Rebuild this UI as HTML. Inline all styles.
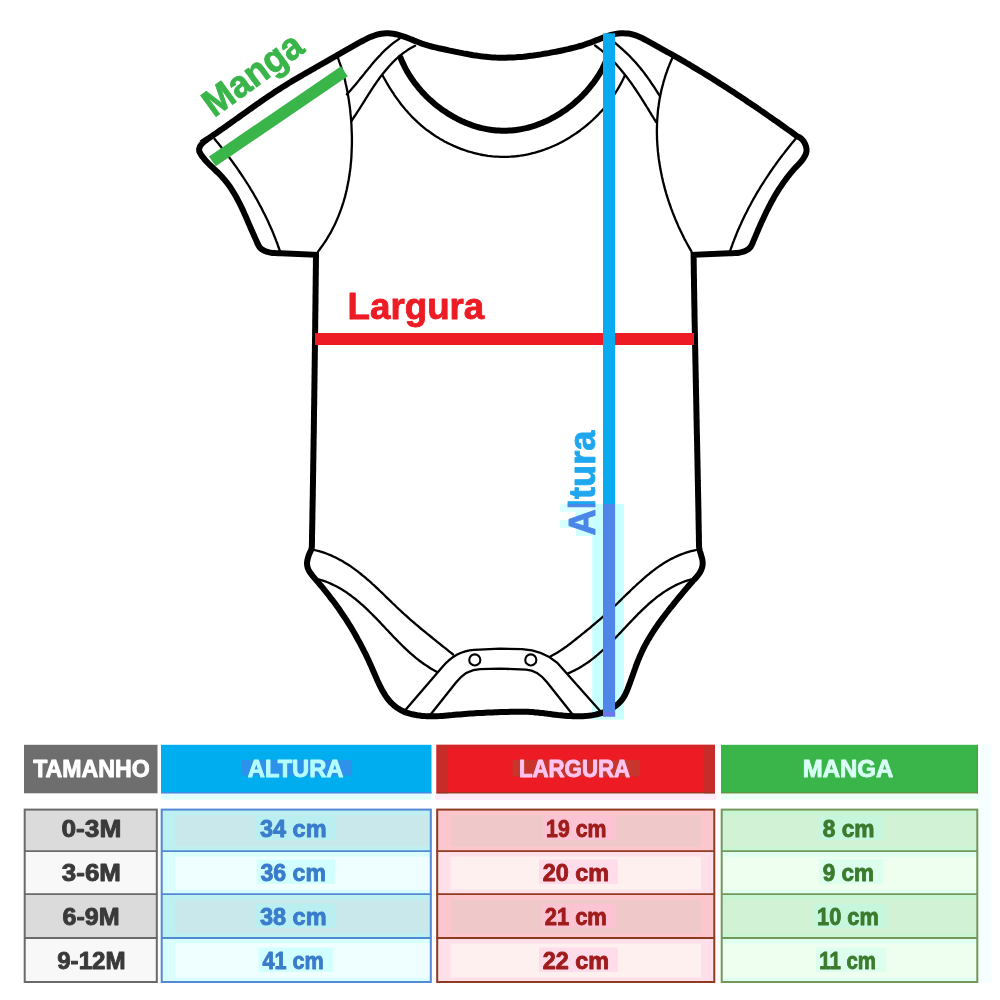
<!DOCTYPE html>
<html lang="pt-BR">
<head>
<meta charset="utf-8">
<title>Tabela de medidas - Body</title>
<style>
html,body{margin:0;padding:0;background:#fff;}
body{width:1000px;height:1000px;overflow:hidden;font-family:"Liberation Sans",sans-serif;}
svg{display:block;}
svg text{font-family:"Liberation Sans",sans-serif;}
</style>
</head>
<body>
<svg width="1000" height="1000" viewBox="0 0 1000 1000">
<rect width="1000" height="1000" fill="#fff"/>
<defs>
<linearGradient id="gAlt" gradientUnits="userSpaceOnUse" x1="0" y1="0" x2="100" y2="0">
<stop offset="0" stop-color="#4a86e8"/><stop offset="0.3295" stop-color="#4a86e8"/><stop offset="0.3295" stop-color="#1ea7ee"/><stop offset="1" stop-color="#1ea7ee"/>
</linearGradient>
</defs>
<!-- artefact tint -->
<rect x="592.2" y="504" width="31.7" height="215.6" fill="#c8ffff"/>
<rect x="560" y="504" width="33" height="8" fill="#dcffff"/>
<rect x="576" y="512" width="17" height="24" fill="#d0ffff"/>
<rect x="560" y="520" width="16" height="8" fill="#d6ffff"/>
<rect x="978.4" y="744.8" width="13" height="238" fill="#f6ffff"/>
<!-- bodysuit -->
<path d="M214.6,139.0L216.2,141.0L217.9,142.9L219.5,145.0L221.1,147.0L222.7,149.0L224.3,151.0L225.9,153.1L227.5,155.1L229.1,157.2L230.6,159.3L232.2,161.4L233.7,163.5L235.2,165.6L236.7,167.7L238.2,169.8L239.7,172.0L241.1,174.1L242.6,176.3L244.0,178.5L245.4,180.6L246.8,182.8L248.2,185.0L249.6,187.2L250.9,189.5L252.3,191.7L253.6,193.9L254.9,196.2L256.2,198.4L257.5,200.7L258.7,203.0L259.9,205.3L261.2,207.5L262.4,209.9L263.5,212.2L264.7,214.5L265.8,216.8L267.0,219.2L268.1,221.5L269.1,223.9L270.2,226.2L271.2,228.6L272.3,231.0L273.3,233.4L274.2,235.8L275.2,238.2L276.1,240.6L277.1,243.0L277.9,245.5L278.8,247.9L279.7,250.4" fill="none" stroke="#000" stroke-width="2.3" stroke-linecap="round" stroke-linejoin="round"/>
<path d="M337.5,57.1L338.5,59.5L339.3,61.9L340.2,64.2L341.0,66.6L341.8,69.0L342.5,71.5L343.2,73.9L343.9,76.3L344.6,78.8L345.2,81.2L345.7,83.7L346.3,86.2L346.8,88.6L347.3,91.1L347.8,93.6L348.2,96.1L348.6,98.6L349.0,101.1L349.3,103.6L349.7,106.2L350.0,108.7L350.3,111.2L350.5,113.7L350.8,116.3L351.0,118.8L351.2,121.3L351.4,123.9L351.5,126.4L351.6,129.0L351.7,131.5L351.8,134.1L351.9,136.6L351.9,139.2L351.9,141.7L351.9,144.3L351.8,146.8L351.7,149.4L351.6,151.9L351.5,154.5L351.4,157.0L351.2,159.6L351.0,162.1L350.7,164.7L350.5,167.2L350.2,169.7L349.8,172.2L349.5,174.8L349.1,177.3L348.7,179.8L348.2,182.3L347.7,184.8L347.2,187.3L346.7,189.7L346.1,192.2L345.5,194.7L344.9,197.1L344.2,199.5L343.5,202.0L342.7,204.4L341.9,206.8L341.1,209.2L340.2,211.6L339.3,213.9L338.4,216.3L337.4,218.6L336.4,220.9L335.4,223.2L334.3,225.5L333.1,227.8L332.0,230.0L330.8,232.3L329.5,234.5L328.2,236.7L326.9,238.9L325.5,241.1L324.1,243.2L322.6,245.3L321.1,247.4L319.6,249.5L318.0,251.6" fill="none" stroke="#000" stroke-width="2.3" stroke-linecap="round" stroke-linejoin="round"/>
<path d="M399.6,38.6L397.4,40.1L395.2,41.6L393.1,43.2L391.0,44.9L389.0,46.6L387.0,48.4L385.0,50.2L383.1,52.0L381.3,53.9L379.5,55.9L377.7,57.8L375.9,59.8L374.1,61.8L372.4,63.8L370.7,65.9L369.0,67.9L367.3,70.0L365.6,72.0L364.0,74.1L362.3,76.2L360.6,78.3L358.9,80.4L357.3,82.4L355.6,84.5L353.8,86.5L352.1,88.5L350.4,90.5L348.6,92.5L346.8,94.4" fill="none" stroke="#000" stroke-width="2.3" stroke-linecap="round" stroke-linejoin="round"/>
<path d="M415.1,45.7L412.8,46.9L410.5,48.2L408.2,49.6L406.1,51.1L403.9,52.6L401.9,54.2L399.8,55.8L397.9,57.5L396.0,59.2L394.1,61.0L392.2,62.9L390.5,64.8L388.7,66.7L387.0,68.7L385.3,70.7L383.7,72.7L382.0,74.8L380.4,76.9L378.9,79.0L377.3,81.1L375.8,83.3L374.3,85.5L372.9,87.7L371.4,89.9L370.0,92.1L368.5,94.4L367.1,96.6L365.7,98.8L364.3,101.1L362.9,103.3L361.5,105.5L360.1,107.8L358.7,110.0L357.3,112.2L355.9,114.3L354.4,116.5L353.0,118.6L351.6,120.8" fill="none" stroke="#000" stroke-width="2.3" stroke-linecap="round" stroke-linejoin="round"/>
<path d="M313.9,549.9L316.4,550.5L319.0,551.2L321.5,551.9L323.9,552.7L326.3,553.5L328.7,554.5L331.0,555.4L333.3,556.5L335.6,557.5L337.9,558.7L340.1,559.9L342.3,561.1L344.4,562.4L346.6,563.7L348.7,565.0L350.8,566.4L352.8,567.9L354.9,569.4L356.9,570.9L358.9,572.4L360.9,574.0L362.8,575.6L364.8,577.2L366.7,578.9L368.7,580.5L370.6,582.2L372.5,584.0L374.4,585.7L376.2,587.4L378.1,589.2L380.0,591.0L381.8,592.7L383.7,594.5L385.5,596.3L387.4,598.1L389.2,599.9L391.1,601.7L392.9,603.5L394.8,605.2L396.6,607.0L398.5,608.8L400.4,610.5L402.3,612.3L404.1,614.0L406.0,615.7L407.9,617.4L409.8,619.1L411.8,620.8L413.7,622.4L415.6,624.1L417.5,625.7L419.5,627.4L421.4,629.0L423.4,630.6L425.3,632.2L427.3,633.8L429.3,635.4L431.3,637.0L433.2,638.6L435.2,640.2L437.2,641.8L439.2,643.4L441.2,645.0L443.2,646.6L445.2,648.1L447.1,649.7L449.1,651.3L451.1,652.9L453.1,654.5" fill="none" stroke="#000" stroke-width="2.3" stroke-linecap="round" stroke-linejoin="round"/>
<path d="M319.4,579.5L322.0,580.3L324.5,581.1L326.9,582.0L329.3,583.0L331.7,584.1L334.0,585.2L336.2,586.3L338.5,587.5L340.7,588.8L342.8,590.1L345.0,591.4L347.1,592.8L349.1,594.3L351.2,595.8L353.2,597.3L355.2,598.9L357.1,600.5L359.1,602.1L361.0,603.8L362.9,605.4L364.8,607.2L366.6,608.9L368.5,610.7L370.3,612.5L372.1,614.3L373.9,616.1L375.7,617.9L377.5,619.8L379.3,621.6L381.1,623.5L382.8,625.4L384.6,627.3L386.4,629.2L388.2,631.0L389.9,632.9L391.7,634.8L393.5,636.7L395.3,638.5L397.1,640.4L398.9,642.2L400.7,644.0L402.5,645.8L404.4,647.6L406.2,649.4L408.1,651.1L410.0,652.8L411.9,654.5L413.9,656.2L415.8,657.8L417.8,659.4L419.8,661.0L421.9,662.5L424.0,664.0L426.1,665.4L428.2,666.8L430.4,668.2L432.6,669.5L434.8,670.7L437.1,671.9" fill="none" stroke="#000" stroke-width="2.3" stroke-linecap="round" stroke-linejoin="round"/>
<path d="M795.4,139.0L793.8,141.0L792.1,142.9L790.5,145.0L788.9,147.0L787.3,149.0L785.7,151.0L784.1,153.1L782.5,155.1L780.9,157.2L779.4,159.3L777.8,161.4L776.3,163.5L774.8,165.6L773.3,167.7L771.8,169.8L770.3,172.0L768.9,174.1L767.4,176.3L766.0,178.5L764.6,180.6L763.2,182.8L761.8,185.0L760.4,187.2L759.1,189.5L757.7,191.7L756.4,193.9L755.1,196.2L753.8,198.4L752.5,200.7L751.3,203.0L750.1,205.3L748.8,207.5L747.6,209.9L746.5,212.2L745.3,214.5L744.2,216.8L743.0,219.2L741.9,221.5L740.9,223.9L739.8,226.2L738.8,228.6L737.7,231.0L736.7,233.4L735.8,235.8L734.8,238.2L733.9,240.6L732.9,243.0L732.1,245.5L731.2,247.9L730.3,250.4" fill="none" stroke="#000" stroke-width="2.3" stroke-linecap="round" stroke-linejoin="round"/>
<path d="M672.7,57.2L671.7,59.6L670.6,62.0L669.6,64.4L668.7,66.7L667.7,69.1L666.9,71.6L666.0,74.0L665.2,76.4L664.5,78.8L663.7,81.3L663.1,83.7L662.4,86.2L661.8,88.6L661.2,91.1L660.7,93.6L660.2,96.1L659.7,98.6L659.3,101.0L658.9,103.5L658.6,106.0L658.2,108.5L657.9,111.1L657.7,113.6L657.5,116.1L657.3,118.6L657.2,121.1L657.0,123.6L657.0,126.2L656.9,128.7L656.9,131.2L656.9,133.8L657.0,136.3L657.0,138.8L657.2,141.3L657.3,143.9L657.5,146.4L657.7,148.9L657.9,151.4L658.2,154.0L658.5,156.5L658.8,159.0L659.2,161.5L659.6,164.0L660.0,166.5L660.4,169.1L660.9,171.6L661.4,174.1L661.9,176.5L662.5,179.0L663.0,181.5L663.7,184.0L664.3,186.5L664.9,188.9L665.6,191.4L666.3,193.8L667.1,196.3L667.8,198.7L668.6,201.1L669.4,203.5L670.3,205.9L671.1,208.3L672.0,210.7L672.9,213.1L673.9,215.5L674.8,217.8L675.8,220.2L676.8,222.5L677.8,224.9L678.8,227.2L679.9,229.5L681.0,231.8L682.1,234.0L683.2,236.3L684.3,238.6L685.5,240.8L686.7,243.0L687.9,245.2L689.1,247.4L690.4,249.6L691.6,251.8" fill="none" stroke="#000" stroke-width="2.3" stroke-linecap="round" stroke-linejoin="round"/>
<path d="M610.0,39.0L612.1,40.6L614.2,42.2L616.2,43.9L618.2,45.6L620.2,47.3L622.2,49.1L624.1,50.8L626.0,52.6L627.9,54.4L629.8,56.3L631.6,58.2L633.4,60.1L635.2,62.0L636.9,64.0L638.6,66.0L640.3,68.0L641.9,70.0L643.6,72.1L645.1,74.2L646.7,76.3L648.2,78.4L649.8,80.6L651.2,82.8L652.7,85.0L654.2,87.2L655.6,89.4L657.0,91.6L658.5,93.9L659.9,96.1" fill="none" stroke="#000" stroke-width="2.3" stroke-linecap="round" stroke-linejoin="round"/>
<path d="M595.0,45.5L597.1,47.0L599.2,48.6L601.2,50.2L603.2,51.8L605.2,53.5L607.1,55.2L609.0,57.0L610.8,58.7L612.6,60.6L614.4,62.4L616.2,64.3L617.9,66.3L619.6,68.2L621.3,70.2L622.9,72.2L624.5,74.2L626.1,76.3L627.7,78.3L629.2,80.4L630.8,82.5L632.3,84.7L633.8,86.8L635.3,89.0L636.7,91.1L638.2,93.3L639.6,95.5L641.0,97.7L642.4,99.9L643.8,102.1L645.2,104.3L646.5,106.5L647.9,108.7L649.2,110.9L650.6,113.1L651.9,115.3L653.3,117.5L654.6,119.7L655.9,121.9" fill="none" stroke="#000" stroke-width="2.3" stroke-linecap="round" stroke-linejoin="round"/>
<path d="M696.2,550.0L693.6,550.6L691.0,551.2L688.5,551.9L686.0,552.7L683.6,553.5L681.2,554.4L678.8,555.4L676.5,556.4L674.2,557.5L671.9,558.6L669.7,559.8L667.5,561.0L665.3,562.3L663.2,563.6L661.1,565.0L659.0,566.4L656.9,567.9L654.9,569.4L652.9,570.9L650.8,572.5L648.9,574.1L646.9,575.7L644.9,577.4L643.0,579.1L641.1,580.8L639.2,582.5L637.3,584.2L635.4,586.0L633.5,587.7L631.6,589.5L629.8,591.3L627.9,593.1L626.0,594.9L624.2,596.7L622.3,598.5L620.5,600.4L618.6,602.2L616.8,604.0L614.9,605.7L613.0,607.5L611.1,609.3L609.3,611.0L607.4,612.8L605.5,614.5L603.6,616.2L601.6,617.9L599.7,619.6L597.8,621.2L595.8,622.9L593.9,624.5L591.9,626.1L590.0,627.8L588.0,629.4L586.0,631.0L584.1,632.6L582.1,634.2L580.1,635.8L578.1,637.4L576.1,639.0L574.1,640.6L572.1,642.2L570.1,643.8L568.0,645.3L566.0,646.8L563.9,648.3L561.8,649.7L559.6,651.1L557.5,652.5L555.3,653.8L553.0,655.0L550.7,656.2" fill="none" stroke="#000" stroke-width="2.3" stroke-linecap="round" stroke-linejoin="round"/>
<path d="M690.6,579.5L688.0,580.3L685.5,581.1L683.1,582.0L680.7,583.0L678.3,584.0L676.0,585.1L673.8,586.3L671.5,587.5L669.3,588.7L667.2,590.0L665.0,591.4L662.9,592.8L660.9,594.2L658.8,595.7L656.8,597.2L654.8,598.8L652.9,600.4L651.0,602.0L649.0,603.7L647.2,605.4L645.3,607.1L643.4,608.9L641.6,610.6L639.8,612.4L637.9,614.2L636.1,616.1L634.4,617.9L632.6,619.8L630.8,621.6L629.0,623.5L627.2,625.4L625.5,627.2L623.7,629.1L621.9,631.0L620.2,632.9L618.4,634.8L616.6,636.6L614.8,638.5L613.0,640.3L611.2,642.1L609.4,643.9L607.5,645.7L605.7,647.5L603.8,649.3L601.9,651.0L600.0,652.7L598.1,654.3L596.2,656.0L594.2,657.6L592.2,659.2L590.2,660.7L588.1,662.2L586.0,663.6L583.9,665.0L581.7,666.4L579.5,667.7L577.3,668.9L575.1,670.1L572.7,671.3L570.4,672.4L568.0,673.4" fill="none" stroke="#000" stroke-width="2.3" stroke-linecap="round" stroke-linejoin="round"/>
<path d="M405.4,710 L443,666.2 Q456,651 474,649.8 L500,648.6 L522,649.2 Q543,650.5 557,662.6 L601,712" fill="none" stroke="#000" stroke-width="2.3" stroke-linecap="round" stroke-linejoin="round"/>
<path d="M430.6,714.5 L456,682.5 Q466.5,669.3 480,669.1 L500,668.6 L526,669.6 Q537.3,670 547,682.2 L572.6,714.5" fill="none" stroke="#000" stroke-width="2.3" stroke-linecap="round" stroke-linejoin="round"/>
<path d="M382.8,75.8L384.0,78.0L385.3,80.2L386.5,82.4L387.8,84.6L389.1,86.8L390.4,88.9L391.8,91.1L393.2,93.2L394.6,95.3L396.0,97.3L397.5,99.4L399.0,101.4L400.5,103.5L402.1,105.5L403.7,107.4L405.3,109.4L407.0,111.3L408.7,113.2L410.4,115.0L412.1,116.9L413.9,118.7L415.7,120.4L417.6,122.2L419.5,123.9L421.4,125.6L423.3,127.2L425.3,128.8L427.3,130.3L429.4,131.8L431.5,133.3L433.6,134.8L435.7,136.2L437.9,137.5L440.1,138.9L442.3,140.1L444.5,141.4L446.8,142.6L449.1,143.7L451.4,144.8L453.7,145.9L456.1,146.9L458.4,147.9L460.8,148.8L463.2,149.7L465.6,150.5L468.0,151.3L470.5,152.0L472.9,152.7L475.4,153.3L477.8,153.9L480.3,154.5L482.8,155.0L485.3,155.4L487.8,155.8L490.3,156.1L492.8,156.4L495.3,156.6L497.8,156.7L500.3,156.8L502.9,156.9L505.4,156.9L507.9,156.8L510.4,156.7L512.9,156.5L515.4,156.3L517.9,156.0L520.3,155.7L522.8,155.3L525.3,154.9L527.8,154.4L530.2,153.8L532.6,153.2L535.1,152.6L537.5,151.9L539.9,151.2L542.3,150.4L544.7,149.5L547.1,148.6L549.4,147.7L551.7,146.7L554.1,145.7L556.4,144.7L558.7,143.6L560.9,142.4L563.2,141.2L565.4,140.0L567.6,138.7L569.8,137.4L571.9,136.0L574.1,134.6L576.2,133.2L578.3,131.7L580.4,130.2L582.4,128.7L584.4,127.1L586.4,125.5L588.3,123.9L590.3,122.2L592.2,120.5L594.0,118.7L595.9,116.9L597.7,115.1L599.4,113.3L601.2,111.4L602.9,109.5L604.5,107.6L606.2,105.6L607.7,103.6L609.3,101.6L610.8,99.6L612.3,97.5L613.7,95.4L615.1,93.3L616.5,91.2L617.8,89.0L619.1,86.8L620.3,84.6L621.5,82.4L622.6,80.2L623.7,77.9L624.8,75.6" fill="none" stroke="#000" stroke-width="2.3" stroke-linecap="round" stroke-linejoin="round"/>
<path d="M400.5,57.6L401.4,59.9L402.4,62.2L403.5,64.4L404.6,66.7L405.7,68.9L406.9,71.1L408.2,73.3L409.5,75.4L410.9,77.5L412.3,79.6L413.8,81.7L415.3,83.7L416.9,85.7L418.5,87.7L420.1,89.6L421.8,91.6L423.5,93.4L425.3,95.3L427.1,97.1L429.0,98.9L430.9,100.6L432.8,102.3L434.7,104.0L436.7,105.6L438.8,107.2L440.8,108.7L442.9,110.2L445.0,111.6L447.2,113.1L449.3,114.4L451.5,115.7L453.7,117.0L456.0,118.2L458.2,119.4L460.5,120.5L462.8,121.6L465.1,122.6L467.5,123.5L469.8,124.4L472.2,125.3L474.6,126.1L477.0,126.8L479.4,127.5L481.9,128.1L484.3,128.6L486.7,129.1L489.2,129.6L491.6,129.9L494.1,130.2L496.6,130.5L499.1,130.6L501.5,130.7L504.0,130.8L506.5,130.7L508.9,130.6L511.4,130.5L513.9,130.2L516.4,129.9L518.8,129.6L521.3,129.1L523.7,128.6L526.1,128.1L528.6,127.5L531.0,126.8L533.4,126.1L535.8,125.3L538.2,124.4L540.5,123.5L542.9,122.6L545.2,121.6L547.5,120.5L549.8,119.4L552.0,118.2L554.3,117.0L556.5,115.7L558.7,114.4L560.8,113.1L563.0,111.6L565.1,110.2L567.2,108.7L569.2,107.2L571.3,105.6L573.3,104.0L575.2,102.3L577.1,100.6L579.0,98.9L580.9,97.1L582.7,95.3L584.5,93.4L586.2,91.6L587.9,89.6L589.5,87.7L591.1,85.7L592.7,83.7L594.2,81.7L595.7,79.6L597.1,77.5L598.5,75.4L599.8,73.3L601.1,71.1L602.3,68.9L603.4,66.7L604.5,64.4L605.6,62.2L606.6,59.9L607.5,57.6" fill="none" stroke="#000" stroke-width="6.0" stroke-linecap="round" stroke-linejoin="round"/>
<path d="M797.5,136.4L795.4,135.0L793.4,133.5L791.4,132.0L789.3,130.6L787.3,129.1L785.2,127.7L783.2,126.2L781.1,124.7L779.1,123.3L777.0,121.8L775.0,120.4L772.9,119.0L770.8,117.5L768.8,116.1L766.7,114.6L764.7,113.2L762.6,111.8L760.5,110.4L758.4,108.9L756.4,107.5L754.3,106.1L752.2,104.7L750.1,103.3L748.0,101.9L746.0,100.5L743.9,99.1L741.8,97.7L739.7,96.3L737.6,94.9L735.5,93.5L733.4,92.1L731.3,90.8L729.2,89.4L727.1,88.0L724.9,86.7L722.8,85.3L720.7,83.9L718.6,82.6L716.5,81.3L714.3,79.9L712.2,78.6L710.1,77.2L708.0,75.9L705.8,74.6L703.7,73.3L701.5,72.0L699.4,70.7L697.2,69.4L695.1,68.1L692.9,66.8L690.8,65.5L688.6,64.2L686.5,63.0L684.3,61.7L682.1,60.4L680.0,59.2L677.8,57.9L675.6,56.7L673.4,55.4L671.2,54.2L669.1,53.0L666.9,51.8L664.7,50.5L662.5,49.3L660.3,48.1L658.1,46.9L655.9,45.7L653.7,44.4L651.4,43.2L649.2,42.0L647.0,40.7L644.7,39.5L642.5,38.3L640.2,37.3L637.9,36.3L635.6,35.4L633.2,34.6L630.8,34.0L628.3,33.6L625.8,33.4L623.4,33.3L620.9,33.3L618.4,33.5L615.9,33.9L613.5,34.4L611.1,35.0L608.7,35.7L606.3,36.5L603.9,37.3L601.5,38.2L599.2,39.2L596.8,40.1L594.4,41.0L592.1,42.0L589.7,42.9L587.3,43.7L584.9,44.5L582.6,45.3L580.2,46.0L577.7,46.7L575.3,47.3L572.9,47.9L570.5,48.5L568.0,49.1L565.6,49.6L563.1,50.2L560.7,50.7L558.2,51.2L555.8,51.7L553.3,52.1L550.8,52.6L548.4,53.1L545.9,53.5L543.4,53.9L540.9,54.4L538.4,54.7L535.9,55.1L533.4,55.5L531.0,55.8L528.5,56.1L526.0,56.4L523.5,56.7L521.0,56.9L518.5,57.1L515.9,57.3L513.4,57.4L510.9,57.5L508.4,57.6L505.9,57.7L503.4,57.7L500.9,57.7L498.4,57.7L495.9,57.6L493.4,57.4L490.9,57.3L488.4,57.1L485.9,56.8L483.4,56.6L480.9,56.3L478.4,55.9L475.9,55.5L473.4,55.2L470.9,54.7L468.4,54.3L465.9,53.8L463.5,53.4L461.0,52.9L458.5,52.4L456.0,51.9L453.6,51.4L451.1,50.9L448.7,50.4L446.2,49.8L443.8,49.3L441.3,48.8L438.9,48.3L436.5,47.7L434.0,47.1L431.6,46.5L429.2,45.8L426.8,45.1L424.4,44.4L422.0,43.6L419.7,42.7L417.3,41.8L414.9,40.9L412.6,39.9L410.2,39.0L407.8,38.0L405.5,37.1L403.1,36.3L400.7,35.5L398.3,34.8L395.8,34.2L393.4,33.7L390.9,33.4L388.5,33.3L386.0,33.3L383.5,33.4L381.1,33.7L378.6,34.2L376.2,34.9L373.9,35.7L371.5,36.6L369.2,37.6L366.9,38.6L364.6,39.8L362.4,41.0L360.1,42.2L357.9,43.4L355.7,44.7L353.5,45.9L351.3,47.1L349.1,48.4L346.9,49.6L344.7,50.9L342.6,52.1L340.4,53.4L338.2,54.6L336.1,55.9L333.9,57.1L331.7,58.3L329.5,59.6L327.4,60.8L325.2,62.1L323.0,63.3L320.8,64.5L318.6,65.8L316.5,67.0L314.3,68.3L312.1,69.5L309.9,70.8L307.7,72.0L305.5,73.3L303.4,74.5L301.2,75.8L299.0,77.1L296.9,78.3L294.7,79.6L292.5,80.9L290.4,82.2L288.2,83.5L286.1,84.9L284.0,86.2L281.8,87.5L279.7,88.9L277.6,90.2L275.5,91.6L273.4,93.0L271.3,94.4L269.2,95.8L267.1,97.2L265.1,98.6L263.0,100.0L260.9,101.5L258.9,102.9L256.8,104.3L254.8,105.8L252.7,107.2L250.6,108.7L248.6,110.1L246.6,111.6L244.5,113.1L242.5,114.5L240.4,116.0L238.4,117.5L236.3,118.9L234.3,120.4L232.2,121.8L230.2,123.3L228.1,124.8L226.1,126.2L224.0,127.7L222.0,129.1L219.9,130.5L217.9,132.0L215.8,133.4L213.7,134.8L211.7,136.3L209.6,137.7L207.5,139.1L205.4,140.5L205.6,140.6L203.7,142.0L201.6,144.1L199.9,146.5L199.1,149.0L199.3,151.3L200.4,153.5L201.7,155.7L203.3,157.7L204.9,159.7L206.6,161.6L208.4,163.5L210.2,165.3L212.1,167.1L214.0,168.9L215.9,170.7L217.8,172.5L219.7,174.4L221.5,176.2L223.2,178.2L224.9,180.1L226.5,182.2L228.1,184.2L229.6,186.3L231.0,188.4L232.4,190.6L233.8,192.8L235.1,195.0L236.4,197.3L237.6,199.6L238.8,201.9L240.0,204.2L241.1,206.5L242.3,208.9L243.4,211.3L244.4,213.6L245.5,216.0L246.6,218.4L247.6,220.8L248.6,223.2L249.7,225.6L250.7,228.0L251.7,230.4L252.8,232.7L253.8,235.1L254.9,237.4L255.9,239.8L257.0,242.1L258.1,244.4L258.0,244.5L259.5,247.1L261.5,249.1L263.9,250.6L266.6,251.7L269.4,252.4L272.3,252.9L275.3,253.1L278.2,253.2L281.0,253.3L281.0,253.3L316.0,254.8L316.0,254.8L316.0,257.3L315.9,259.9L315.9,262.4L315.9,264.9L315.9,267.5L315.8,270.0L315.8,272.5L315.8,275.1L315.7,277.6L315.7,280.1L315.7,282.7L315.7,285.2L315.6,287.7L315.6,290.3L315.6,292.8L315.5,295.3L315.5,297.8L315.5,300.4L315.5,302.9L315.4,305.4L315.4,308.0L315.4,310.5L315.3,313.0L315.3,315.6L315.3,318.1L315.2,320.6L315.2,323.2L315.2,325.7L315.2,328.2L315.1,330.8L315.1,333.3L315.1,335.8L315.0,338.4L315.0,340.9L315.0,343.4L314.9,346.0L314.9,348.5L314.9,351.0L314.8,353.6L314.8,356.1L314.8,358.6L314.7,361.2L314.7,363.7L314.7,366.2L314.6,368.8L314.6,371.3L314.6,373.8L314.5,376.3L314.5,378.9L314.5,381.4L314.4,383.9L314.4,386.5L314.4,389.0L314.3,391.5L314.3,394.1L314.3,396.6L314.2,399.1L314.2,401.7L314.2,404.2L314.1,406.7L314.1,409.3L314.0,411.8L314.0,414.3L314.0,416.9L313.9,419.4L313.9,421.9L313.9,424.5L313.8,427.0L313.8,429.5L313.8,432.1L313.7,434.6L313.7,437.1L313.6,439.7L313.6,442.2L313.6,444.7L313.5,447.2L313.5,449.8L313.4,452.3L313.4,454.8L313.4,457.4L313.3,459.9L313.3,462.4L313.2,465.0L313.2,467.5L313.2,470.0L313.1,472.6L313.1,475.1L313.0,477.6L313.0,480.2L313.0,482.7L312.9,485.2L312.9,487.8L312.8,490.3L312.8,492.8L312.8,495.4L312.7,497.9L312.7,500.4L312.6,503.0L312.6,505.5L312.5,508.0L312.5,510.6L312.4,513.1L312.4,515.6L312.4,518.1L312.3,520.7L312.3,523.2L312.2,525.7L312.2,528.3L312.1,530.8L312.1,533.3L312.0,535.9L312.0,538.4L312.0,540.9L311.9,543.5L311.9,546.0L311.9,546.1L311.6,548.5L310.8,550.8L309.7,553.0L308.7,555.4L307.9,558.0L307.3,560.5L307.0,563.0L307.2,565.5L307.7,567.8L308.6,570.0L309.8,572.1L311.3,574.1L312.8,576.1L314.5,578.1L316.2,580.1L317.9,582.0L319.5,584.0L321.2,585.9L322.8,587.9L324.4,589.9L326.0,591.8L327.6,593.8L329.1,595.8L330.6,597.8L332.2,599.8L333.7,601.8L335.2,603.8L336.6,605.8L338.1,607.8L339.5,609.8L340.9,611.9L342.3,614.0L343.7,616.0L345.1,618.1L346.5,620.2L347.8,622.3L349.2,624.5L350.5,626.6L351.8,628.8L353.1,630.9L354.3,633.1L355.6,635.3L356.8,637.5L358.0,639.7L359.3,641.9L360.5,644.2L361.6,646.4L362.8,648.6L363.9,650.9L365.1,653.2L366.2,655.4L367.3,657.7L368.4,660.0L369.4,662.3L370.5,664.6L371.5,666.9L372.5,669.2L373.5,671.5L374.5,673.8L375.5,676.1L376.5,678.4L377.5,680.7L378.6,683.0L379.6,685.3L380.8,687.5L381.9,689.7L383.2,691.9L384.5,694.1L385.8,696.2L387.3,698.3L388.9,700.2L390.5,702.1L392.3,703.9L394.2,705.6L396.1,707.1L398.2,708.6L400.4,709.9L402.6,711.0L404.9,712.1L407.3,712.9L409.8,713.7L412.2,714.3L414.7,714.8L417.2,715.3L419.6,715.6L422.1,715.9L424.6,716.1L427.1,716.2L429.6,716.3L432.1,716.3L434.6,716.3L437.1,716.2L439.7,716.1L442.2,715.9L444.7,715.7L447.2,715.5L449.7,715.3L452.3,715.1L454.8,714.8L457.3,714.6L459.8,714.4L462.3,714.2L464.8,714.0L467.4,713.8L469.9,713.6L472.4,713.5L474.9,713.3L477.4,713.1L479.9,713.0L482.4,712.9L484.9,712.7L487.4,712.6L490.0,712.5L492.5,712.4L495.0,712.3L497.5,712.2L500.0,712.1L502.5,712.0L505.0,711.9L507.6,711.9L510.1,711.8L512.6,711.7L515.1,711.7L517.7,711.7L520.2,711.7L522.7,711.7L525.2,711.7L527.7,711.8L530.2,712.0L532.8,712.1L535.3,712.4L537.8,712.6L540.3,712.9L542.8,713.1L545.3,713.4L547.8,713.8L550.3,714.1L552.8,714.4L555.3,714.7L557.8,715.0L560.3,715.2L562.8,715.5L565.3,715.7L567.8,715.9L570.4,716.1L572.9,716.2L575.4,716.3L577.9,716.3L580.4,716.3L582.9,716.2L585.4,716.0L587.9,715.8L590.4,715.5L592.9,715.1L595.4,714.6L597.9,714.0L600.3,713.4L602.7,712.6L605.1,711.7L607.4,710.8L609.6,709.7L611.8,708.4L614.0,707.1L616.0,705.6L618.0,704.0L619.8,702.2L621.5,700.3L623.0,698.3L624.3,696.2L625.5,694.0L626.5,691.7L627.5,689.4L628.4,687.0L629.3,684.7L630.2,682.3L631.0,679.9L631.9,677.6L632.7,675.2L633.6,672.8L634.4,670.4L635.3,668.0L636.1,665.6L637.0,663.3L637.9,660.9L638.9,658.6L639.8,656.3L640.9,654.0L641.9,651.7L643.0,649.4L644.1,647.2L645.3,644.9L646.5,642.7L647.7,640.6L649.0,638.4L650.3,636.2L651.6,634.1L653.0,632.0L654.3,629.9L655.7,627.8L657.2,625.7L658.6,623.6L660.1,621.6L661.6,619.5L663.1,617.5L664.6,615.5L666.1,613.5L667.7,611.5L669.2,609.5L670.8,607.5L672.4,605.6L673.9,603.6L675.5,601.6L677.1,599.7L678.7,597.7L680.3,595.8L681.9,593.8L683.5,591.9L685.1,590.0L686.7,588.1L688.3,586.2L690.0,584.2L691.6,582.4L693.3,580.5L695.1,578.6L696.8,576.7L698.4,574.8L699.8,572.7L701.0,570.5L701.9,568.2L702.5,565.7L702.7,563.2L702.5,560.7L702.0,558.2L701.3,555.8L700.6,553.3L699.8,550.9L699.3,548.5L699.0,546.0L699.0,546.0L699.0,543.5L698.9,540.9L698.9,538.4L698.9,535.9L698.8,533.3L698.8,530.8L698.7,528.3L698.7,525.7L698.6,523.2L698.6,520.7L698.5,518.1L698.5,515.6L698.5,513.1L698.4,510.5L698.4,508.0L698.3,505.5L698.3,503.0L698.2,500.4L698.2,497.9L698.1,495.4L698.1,492.8L698.0,490.3L698.0,487.8L697.9,485.2L697.9,482.7L697.8,480.2L697.8,477.6L697.7,475.1L697.7,472.6L697.6,470.0L697.6,467.5L697.5,465.0L697.5,462.4L697.4,459.9L697.4,457.4L697.3,454.8L697.3,452.3L697.2,449.8L697.2,447.2L697.1,444.7L697.1,442.2L697.0,439.6L697.0,437.1L696.9,434.6L696.8,432.1L696.8,429.5L696.7,427.0L696.7,424.5L696.6,421.9L696.6,419.4L696.5,416.9L696.5,414.3L696.4,411.8L696.4,409.3L696.3,406.7L696.3,404.2L696.2,401.7L696.2,399.1L696.1,396.6L696.1,394.1L696.0,391.5L696.0,389.0L695.9,386.5L695.9,383.9L695.8,381.4L695.8,378.9L695.7,376.3L695.7,373.8L695.6,371.3L695.6,368.8L695.5,366.2L695.5,363.7L695.4,361.2L695.4,358.6L695.3,356.1L695.3,353.6L695.2,351.0L695.2,348.5L695.1,346.0L695.1,343.4L695.0,340.9L695.0,338.4L694.9,335.8L694.9,333.3L694.8,330.8L694.8,328.2L694.7,325.7L694.7,323.2L694.6,320.6L694.6,318.1L694.5,315.6L694.5,313.0L694.5,310.5L694.4,308.0L694.4,305.4L694.3,302.9L694.3,300.4L694.2,297.8L694.2,295.3L694.2,292.8L694.1,290.3L694.1,287.7L694.0,285.2L694.0,282.7L694.0,280.1L693.9,277.6L693.9,275.1L693.8,272.5L693.8,270.0L693.8,267.5L693.7,264.9L693.7,262.4L693.7,259.9L693.6,257.3L693.6,254.8L693.6,254.8L729.0,253.3L729.0,253.3L731.8,253.2L734.7,253.1L737.7,252.9L740.6,252.4L743.4,251.7L746.1,250.6L748.5,249.1L750.5,247.1L752.0,244.5L752.0,244.6L753.0,242.1L754.0,239.7L755.0,237.3L756.1,234.8L757.1,232.4L758.1,230.0L759.1,227.6L760.2,225.2L761.2,222.9L762.3,220.5L763.4,218.2L764.5,215.8L765.6,213.5L766.7,211.2L767.9,208.9L769.0,206.6L770.2,204.3L771.4,202.0L772.7,199.8L773.9,197.5L775.2,195.3L776.5,193.1L777.9,190.9L779.3,188.7L780.7,186.6L782.2,184.4L783.6,182.3L785.2,180.2L786.7,178.1L788.3,176.0L790.0,173.9L791.7,171.9L793.4,169.9L795.2,167.8L797.1,165.9L798.9,163.9L800.7,161.9L802.4,159.9L803.8,157.8L805.1,155.7L806.0,153.5L806.5,151.2L806.5,148.8L806.0,146.3L805.0,143.7L803.6,141.2L801.8,139.1L799.7,137.4L797.5,136.5Z" fill="none" stroke="#000" stroke-width="6.0" stroke-linecap="round" stroke-linejoin="miter" stroke-miterlimit="4"/>
<circle cx="474.8" cy="659.9" r="5.55" fill="#fff" stroke="#000" stroke-width="2.1"/>
<circle cx="530.8" cy="659.9" r="5.55" fill="#fff" stroke="#000" stroke-width="2.1"/>
<!-- measure lines -->
<line x1="212.4" y1="161.4" x2="344.4" y2="71.2" stroke="#39b54a" stroke-width="12"/>
<rect x="315" y="333" width="379" height="12" fill="#ed1c24"/>
<rect x="603" y="33.3" width="12.1" height="471" fill="#0aabee"/>
<rect x="603" y="504" width="12.1" height="212.5" fill="#5086e8"/>
<rect x="603" y="712" width="12.1" height="4.5" fill="#6c74ee"/>
<!-- labels -->
<text transform="translate(214.00,117.90) rotate(-36.00) scale(0.9520,1)" font-size="37.80" font-weight="700" fill="#39b54a" stroke="#39b54a" stroke-width="0.90" stroke-linejoin="round">Manga</text>
<text transform="translate(347.59,319.40) scale(0.9715,1)" font-size="37.80" font-weight="700" fill="#ed1c24" stroke="#ed1c24" stroke-width="0.90" stroke-linejoin="round">Largura</text>
<text transform="translate(594.80,535.40) rotate(-90.00) scale(0.9600,1)" font-size="37.80" font-weight="700" fill="url(#gAlt)" stroke="url(#gAlt)" stroke-width="0.90" stroke-linejoin="round">Altura</text>
<!-- table -->
<rect x="24.0" y="744.8" width="133.5" height="48.5" fill="#6e6e6e"/>
<text transform="translate(33.19,777.00) scale(0.9812,1)" font-size="23.60" font-weight="700" fill="#ffffff" stroke="#ffffff" stroke-width="0.90" stroke-linejoin="round">TAMANHO</text>
<rect x="24.0" y="809.6" width="133.5" height="41.6" fill="#dbdbdb"/>
<rect x="24.0" y="851.2" width="133.5" height="43.0" fill="#f8f8f8"/>
<rect x="24.0" y="894.2" width="133.5" height="43.8" fill="#dbdbdb"/>
<rect x="24.0" y="938.0" width="133.5" height="44.0" fill="#f8f8f8"/>
<line x1="24.0" y1="851.2" x2="157.5" y2="851.2" stroke="#6a6a6a" stroke-width="1.8"/>
<line x1="24.0" y1="894.2" x2="157.5" y2="894.2" stroke="#6a6a6a" stroke-width="1.8"/>
<line x1="24.0" y1="938.0" x2="157.5" y2="938.0" stroke="#6a6a6a" stroke-width="1.8"/>
<rect x="24.7" y="809.6" width="132.1" height="172.4" fill="none" stroke="#6a6a6a" stroke-width="2"/>
<text transform="translate(61.41,836.60) scale(1.1140,1)" font-size="23.60" font-weight="700" fill="#3a3a3a" stroke="#3a3a3a" stroke-width="0.90" stroke-linejoin="round">0-3M</text>
<text transform="translate(61.86,880.60) scale(1.0978,1)" font-size="23.60" font-weight="700" fill="#3a3a3a" stroke="#3a3a3a" stroke-width="0.90" stroke-linejoin="round">3-6M</text>
<text transform="translate(62.53,924.60) scale(1.0638,1)" font-size="23.60" font-weight="700" fill="#3a3a3a" stroke="#3a3a3a" stroke-width="0.90" stroke-linejoin="round">6-9M</text>
<text transform="translate(57.21,968.60) scale(1.0218,1)" font-size="23.60" font-weight="700" fill="#3a3a3a" stroke="#3a3a3a" stroke-width="0.90" stroke-linejoin="round">9-12M</text>
<rect x="161.0" y="744.8" width="270.5" height="48.5" fill="#00aeef"/>
<rect x="161.0" y="793.3" width="270.5" height="6.5" fill="#e2ffff"/>
<rect x="161.0" y="792.3" width="270.5" height="1.2" fill="#5a7fe0"/>
<rect x="241.0" y="760.0" width="111.0" height="15.5" fill="#2e92ea"/>
<text transform="translate(247.86,777.00) scale(1.0032,1)" font-size="23.60" font-weight="700" fill="#b4ffff" stroke="#b4ffff" stroke-width="0.90" stroke-linejoin="round">ALTURA</text>
<rect x="161.0" y="809.6" width="270.5" height="41.6" fill="#bdf0f1"/>
<rect x="175.0" y="815.1" width="256.5" height="31.6" fill="#c9e8ec"/>
<rect x="161.0" y="851.2" width="270.5" height="43.0" fill="#daffff"/>
<rect x="175.0" y="856.7" width="256.5" height="33.0" fill="#efffff"/>
<rect x="161.0" y="894.2" width="270.5" height="43.8" fill="#bdf0f1"/>
<rect x="175.0" y="899.7" width="256.5" height="33.8" fill="#c9e8ec"/>
<rect x="161.0" y="938.0" width="270.5" height="44.0" fill="#daffff"/>
<rect x="175.0" y="943.5" width="256.5" height="34.0" fill="#efffff"/>
<line x1="161.0" y1="851.2" x2="431.5" y2="851.2" stroke="#5288d4" stroke-width="1.8"/>
<line x1="161.0" y1="894.2" x2="431.5" y2="894.2" stroke="#5288d4" stroke-width="1.8"/>
<line x1="161.0" y1="938.0" x2="431.5" y2="938.0" stroke="#5288d4" stroke-width="1.8"/>
<rect x="161.7" y="809.6" width="269.1" height="172.4" fill="none" stroke="#5288d4" stroke-width="2"/>
<rect x="256.0" y="815.5" width="79.6" height="24.5" fill="#b9eff0"/>
<text transform="translate(259.91,836.60) scale(0.9967,1)" font-size="23.60" font-weight="700" fill="#3a7ccc" stroke="#3a7ccc" stroke-width="0.90" stroke-linejoin="round">34 cm</text>
<rect x="256.6" y="859.5" width="78.4" height="24.5" fill="#d2ffff"/>
<text transform="translate(260.52,880.60) scale(0.9783,1)" font-size="23.60" font-weight="700" fill="#3a7ccc" stroke="#3a7ccc" stroke-width="0.90" stroke-linejoin="round">36 cm</text>
<rect x="256.0" y="903.5" width="79.6" height="24.5" fill="#b9eff0"/>
<text transform="translate(259.91,924.60) scale(0.9967,1)" font-size="23.60" font-weight="700" fill="#3a7ccc" stroke="#3a7ccc" stroke-width="0.90" stroke-linejoin="round">38 cm</text>
<rect x="258.4" y="947.5" width="74.6" height="24.5" fill="#d2ffff"/>
<text transform="translate(262.52,968.60) scale(0.9171,1)" font-size="23.60" font-weight="700" fill="#3a7ccc" stroke="#3a7ccc" stroke-width="0.90" stroke-linejoin="round">41 cm</text>
<rect x="436.5" y="744.8" width="278.5" height="48.5" fill="#ed1c24"/>
<rect x="435.0" y="793.3" width="281.5" height="6.5" fill="#ffeaf8"/>
<rect x="436.5" y="744.8" width="11.5" height="48.5" fill="#c62d28"/>
<rect x="704.0" y="744.8" width="11.0" height="48.5" fill="#c62d28"/>
<rect x="448.0" y="744.8" width="256.0" height="4.0" fill="#d62428"/>
<rect x="512.5" y="760.0" width="127.5" height="16.5" fill="#c8352c"/>
<rect x="436.5" y="792.2" width="278.5" height="1.2" fill="#8e3b1f"/>
<text transform="translate(518.96,777.00) scale(0.9422,1)" font-size="23.60" font-weight="700" fill="#ffc4f0" stroke="#ffc4f0" stroke-width="0.90" stroke-linejoin="round">LARGURA</text>
<rect x="436.5" y="809.6" width="278.5" height="41.6" fill="#fcc6cc"/>
<rect x="450.5" y="815.1" width="250.5" height="31.6" fill="#efc9c9"/>
<rect x="436.5" y="851.2" width="278.5" height="43.0" fill="#ffe0ea"/>
<rect x="450.5" y="856.7" width="250.5" height="33.0" fill="#fff0f0"/>
<rect x="436.5" y="894.2" width="278.5" height="43.8" fill="#fcc6cc"/>
<rect x="450.5" y="899.7" width="250.5" height="33.8" fill="#efc9c9"/>
<rect x="436.5" y="938.0" width="278.5" height="44.0" fill="#ffe0ea"/>
<rect x="450.5" y="943.5" width="250.5" height="34.0" fill="#fff0f0"/>
<line x1="436.5" y1="851.2" x2="715.0" y2="851.2" stroke="#8e3b1f" stroke-width="1.8"/>
<line x1="436.5" y1="894.2" x2="715.0" y2="894.2" stroke="#8e3b1f" stroke-width="1.8"/>
<line x1="436.5" y1="938.0" x2="715.0" y2="938.0" stroke="#8e3b1f" stroke-width="1.8"/>
<rect x="437.2" y="809.6" width="277.1" height="172.4" fill="none" stroke="#8e3b1f" stroke-width="2"/>
<rect x="543.0" y="815.5" width="72.6" height="24.5" fill="#fcc4d2"/>
<text transform="translate(546.11,836.60) scale(0.9020,1)" font-size="23.60" font-weight="700" fill="#a01c1c" stroke="#a01c1c" stroke-width="0.90" stroke-linejoin="round">19 cm</text>
<rect x="539.0" y="859.5" width="79.0" height="24.5" fill="#ffdcea"/>
<text transform="translate(542.64,880.60) scale(0.9917,1)" font-size="23.60" font-weight="700" fill="#a01c1c" stroke="#a01c1c" stroke-width="0.90" stroke-linejoin="round">20 cm</text>
<rect x="541.0" y="903.5" width="75.0" height="24.5" fill="#fcc4d2"/>
<text transform="translate(544.69,924.60) scale(0.9298,1)" font-size="23.60" font-weight="700" fill="#a01c1c" stroke="#a01c1c" stroke-width="0.90" stroke-linejoin="round">21 cm</text>
<rect x="539.0" y="947.5" width="79.0" height="24.5" fill="#ffdcea"/>
<text transform="translate(542.64,968.60) scale(0.9917,1)" font-size="23.60" font-weight="700" fill="#a01c1c" stroke="#a01c1c" stroke-width="0.90" stroke-linejoin="round">22 cm</text>
<rect x="721.0" y="744.8" width="257.0" height="48.5" fill="#39b54a"/>
<rect x="721.0" y="793.3" width="257.0" height="6.5" fill="#ecfff6"/>
<rect x="721.0" y="792.2" width="257.0" height="1.2" fill="#6b8f3b"/>
<rect x="976.8" y="744.8" width="1.2" height="48.5" fill="#6b8f3b"/>
<text transform="translate(802.85,777.00) scale(1.0133,1)" font-size="23.60" font-weight="700" fill="#d8fff4" stroke="#d8fff4" stroke-width="0.90" stroke-linejoin="round">MANGA</text>
<rect x="721.0" y="809.6" width="257.0" height="41.6" fill="#c8f5d4"/>
<rect x="721.0" y="815.1" width="257.0" height="31.6" fill="#d2f2d5"/>
<rect x="721.0" y="851.2" width="257.0" height="43.0" fill="#e0fff0"/>
<rect x="721.0" y="856.7" width="257.0" height="33.0" fill="#eefff0"/>
<rect x="721.0" y="894.2" width="257.0" height="43.8" fill="#c8f5d4"/>
<rect x="721.0" y="899.7" width="257.0" height="33.8" fill="#d2f2d5"/>
<rect x="721.0" y="938.0" width="257.0" height="44.0" fill="#e0fff0"/>
<rect x="721.0" y="943.5" width="257.0" height="34.0" fill="#eefff0"/>
<line x1="721.0" y1="851.2" x2="978.0" y2="851.2" stroke="#73985a" stroke-width="1.8"/>
<line x1="721.0" y1="894.2" x2="978.0" y2="894.2" stroke="#73985a" stroke-width="1.8"/>
<line x1="721.0" y1="938.0" x2="978.0" y2="938.0" stroke="#73985a" stroke-width="1.8"/>
<rect x="721.7" y="809.6" width="255.6" height="172.4" fill="none" stroke="#73985a" stroke-width="2"/>
<rect x="819.0" y="815.5" width="64.6" height="24.5" fill="#c6f6dc"/>
<text transform="translate(822.73,836.60) scale(0.9636,1)" font-size="23.60" font-weight="700" fill="#3c7a2e" stroke="#3c7a2e" stroke-width="0.90" stroke-linejoin="round">8 cm</text>
<rect x="819.0" y="859.5" width="64.0" height="24.5" fill="#dcffee"/>
<text transform="translate(822.67,880.60) scale(0.9532,1)" font-size="23.60" font-weight="700" fill="#3c7a2e" stroke="#3c7a2e" stroke-width="0.90" stroke-linejoin="round">9 cm</text>
<rect x="814.0" y="903.5" width="74.0" height="24.5" fill="#c6f6dc"/>
<text transform="translate(817.08,924.60) scale(0.9239,1)" font-size="23.60" font-weight="700" fill="#3c7a2e" stroke="#3c7a2e" stroke-width="0.90" stroke-linejoin="round">10 cm</text>
<rect x="816.0" y="947.5" width="70.4" height="24.5" fill="#dcffee"/>
<text transform="translate(819.16,968.60) scale(0.8676,1)" font-size="23.60" font-weight="700" fill="#3c7a2e" stroke="#3c7a2e" stroke-width="0.90" stroke-linejoin="round">11 cm</text>
</svg>
</body>
</html>
